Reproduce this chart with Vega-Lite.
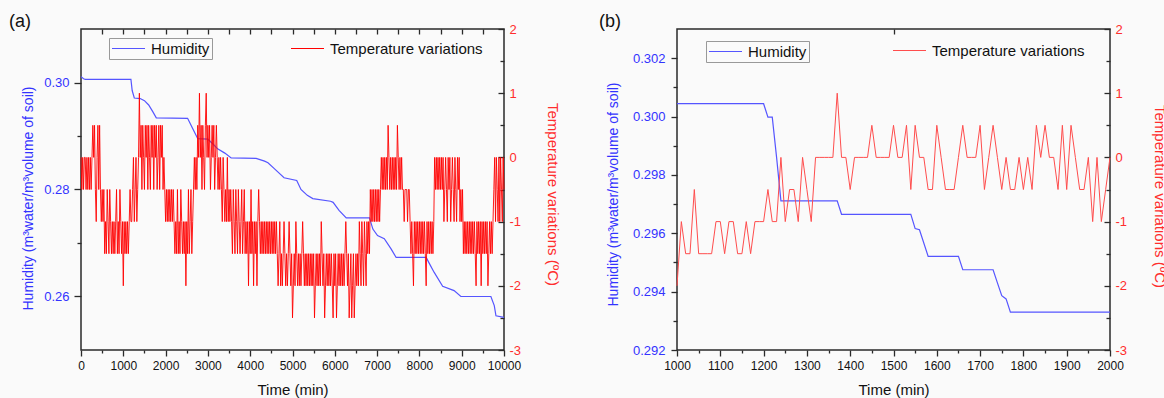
{
  "$schema": "https://vega.github.io/schema/vega-lite/v6.json",
  "background": "#fafafa",
  "padding": {"left": 8, "top": 12, "right": 0, "bottom": 0},
  "config": {
    "font": "Liberation Sans",
    "locale": {"number": {"decimal": ".", "thousands": ",", "grouping": [3], "currency": ["$", ""], "minus": "-"}},
    "view": {"stroke": "#2a2a2a", "strokeWidth": 1.5},
    "axis": {"domain": false, "grid": false, "tickColor": "#2a2a2a", "tickWidth": 1.3, "labelFont": "Liberation Sans", "titleFont": "Liberation Sans", "titleFontWeight": "normal"},
    "legend": {"orient": "none", "title": null, "symbolType": "stroke", "symbolSize": 1089, "symbolStrokeWidth": 1.2, "labelFontSize": 15, "labelFont": "Liberation Sans", "labelColor": "#111", "padding": 2, "labelOffset": 5, "clipHeight": 17, "direction": "horizontal"}
  },
  "datasets": {
    "humA": [
      {"t":0,"h":0.3011},{"t":60,"h":0.3007},{"t":100,"h":0.3006},{"t":1180,"h":0.3006},{"t":1210,"h":0.2985},{"t":1260,"h":0.2971},{"t":1400,"h":0.2970},{"t":1500,"h":0.2966},{"t":1600,"h":0.2958},{"t":1700,"h":0.2945},{"t":1780,"h":0.2934},{"t":2520,"h":0.2933},{"t":2640,"h":0.2914},{"t":2760,"h":0.2895},{"t":3000,"h":0.2894},{"t":3120,"h":0.2885},{"t":3230,"h":0.2876},{"t":3400,"h":0.2868},{"t":3550,"h":0.2859},{"t":4140,"h":0.2858},{"t":4340,"h":0.2853},{"t":4420,"h":0.2850},{"t":4570,"h":0.2839},{"t":4800,"h":0.2822},{"t":5100,"h":0.2817},{"t":5200,"h":0.2800},{"t":5350,"h":0.2789},{"t":5480,"h":0.2783},{"t":5900,"h":0.2778},{"t":5960,"h":0.2776},{"t":6100,"h":0.2761},{"t":6270,"h":0.2747},{"t":6820,"h":0.2747},{"t":6900,"h":0.2726},{"t":7010,"h":0.2714},{"t":7170,"h":0.2708},{"t":7330,"h":0.2689},{"t":7450,"h":0.2673},{"t":8160,"h":0.2673},{"t":8240,"h":0.2661},{"t":8350,"h":0.2645},{"t":8550,"h":0.2619},{"t":8820,"h":0.2611},{"t":8980,"h":0.2600},{"t":9690,"h":0.2600},{"t":9770,"h":0.2583},{"t":9810,"h":0.2564},{"t":10000,"h":0.2561}
    ],
    "tempA": [
      {"t":0,"v":0},{"t":20,"v":-0.5},{"t":40,"v":0},{"t":60,"v":-0.5},{"t":80,"v":0},{"t":100,"v":0},{"t":120,"v":-0.5},{"t":140,"v":0},{"t":160,"v":-0.5},{"t":180,"v":0},{"t":200,"v":-0.5},{"t":220,"v":0},{"t":240,"v":-0.5},{"t":260,"v":0},{"t":280,"v":0.5},{"t":300,"v":0},{"t":320,"v":0.5},{"t":340,"v":-0.5},{"t":360,"v":-1},{"t":380,"v":0},
      {"t":400,"v":0.5},{"t":420,"v":-0.5},{"t":440,"v":0.5},{"t":460,"v":-0.5},{"t":480,"v":-1},{"t":500,"v":-0.5},{"t":520,"v":-1},{"t":540,"v":-0.5},{"t":560,"v":-1.5},{"t":580,"v":-1},{"t":600,"v":-1.5},{"t":620,"v":-0.5},{"t":640,"v":-1},{"t":660,"v":-1.5},{"t":680,"v":-0.5},{"t":700,"v":-1},{"t":720,"v":-1.5},{"t":740,"v":-1},{"t":760,"v":-1.5},{"t":780,"v":-1},{"t":800,"v":-1.5},{"t":820,"v":-1},{"t":840,"v":-0.5},{"t":860,"v":-1.5},{"t":880,"v":-1},{"t":900,"v":-1.5},{"t":920,"v":-0.5},{"t":940,"v":-1},{"t":960,"v":-1.5},{"t":980,"v":-1},{"t":1000,"v":-2},{"t":1020,"v":-1},{"t":1040,"v":-1.5},{"t":1060,"v":-1},{"t":1080,"v":-1.5},{"t":1100,"v":-1},{"t":1120,"v":-1.5},{"t":1140,"v":-1},{"t":1160,"v":-0.5},{"t":1180,"v":-1},
      {"t":1200,"v":-1},{"t":1220,"v":-0.5},{"t":1240,"v":0},{"t":1260,"v":-1},{"t":1280,"v":-0.5},{"t":1300,"v":0},{"t":1320,"v":-1},{"t":1340,"v":-0.5},{"t":1360,"v":0},{"t":1380,"v":1},{"t":1400,"v":0},{"t":1420,"v":0.5},{"t":1440,"v":-0.5},{"t":1460,"v":0.5},{"t":1480,"v":0},{"t":1500,"v":-0.5},{"t":1520,"v":0.5},{"t":1540,"v":0},{"t":1560,"v":0.5},{"t":1580,"v":-0.5},{"t":1600,"v":0.5},{"t":1620,"v":0},{"t":1640,"v":-0.5},{"t":1660,"v":0.5},{"t":1680,"v":0},{"t":1700,"v":0.5},{"t":1720,"v":-0.5},{"t":1740,"v":0.5},{"t":1760,"v":0},{"t":1780,"v":0.5},{"t":1800,"v":-0.5},{"t":1820,"v":0},{"t":1840,"v":0.5},{"t":1860,"v":-0.5},{"t":1880,"v":0.5},{"t":1900,"v":0},{"t":1920,"v":0.5},{"t":1940,"v":-0.5},{"t":1960,"v":0},{"t":1980,"v":-0.5},
      {"t":2000,"v":-1},{"t":2020,"v":-0.5},{"t":2040,"v":-1},{"t":2060,"v":-0.5},{"t":2080,"v":-1},{"t":2100,"v":-0.5},{"t":2120,"v":-1},{"t":2140,"v":-0.5},{"t":2160,"v":-1},{"t":2180,"v":-0.5},{"t":2200,"v":-1},{"t":2220,"v":-1.5},{"t":2240,"v":-1},{"t":2260,"v":-1.5},{"t":2280,"v":-0.5},{"t":2300,"v":-1.5},{"t":2320,"v":-1},{"t":2340,"v":-1.5},{"t":2360,"v":-0.5},{"t":2380,"v":-1},{"t":2400,"v":-1.5},{"t":2420,"v":-1},{"t":2440,"v":-1.5},{"t":2460,"v":-1},{"t":2480,"v":-2},{"t":2500,"v":-1},{"t":2520,"v":-1.5},{"t":2540,"v":-0.5},{"t":2560,"v":-1.5},{"t":2580,"v":-1},{"t":2600,"v":-0.5},{"t":2620,"v":-1.5},{"t":2640,"v":-1},{"t":2660,"v":-0.5},
      {"t":2680,"v":0},{"t":2700,"v":-0.5},{"t":2720,"v":0},{"t":2740,"v":-0.5},{"t":2760,"v":0.5},{"t":2780,"v":0},{"t":2800,"v":1},{"t":2820,"v":0},{"t":2840,"v":0.5},{"t":2860,"v":-0.5},{"t":2880,"v":0.5},{"t":2900,"v":0},{"t":2920,"v":-0.5},{"t":2940,"v":0.5},{"t":2960,"v":1},{"t":2980,"v":0},{"t":3000,"v":0.5},{"t":3020,"v":0},{"t":3040,"v":0.5},{"t":3060,"v":-0.5},{"t":3080,"v":0},{"t":3100,"v":0.5},{"t":3120,"v":0},{"t":3140,"v":0.5},{"t":3160,"v":-0.5},{"t":3180,"v":0},{"t":3200,"v":0.5},{"t":3220,"v":0},{"t":3240,"v":-0.5},{"t":3260,"v":0},{"t":3280,"v":-0.5},{"t":3300,"v":0},
      {"t":3320,"v":-0.5},{"t":3340,"v":-1},{"t":3360,"v":0},{"t":3380,"v":-0.5},{"t":3400,"v":-1},{"t":3420,"v":-0.5},{"t":3440,"v":-1},{"t":3460,"v":0},{"t":3480,"v":-1},{"t":3500,"v":-0.5},{"t":3520,"v":-1},{"t":3540,"v":-0.5},{"t":3560,"v":-1},{"t":3580,"v":-1.5},{"t":3600,"v":-0.5},{"t":3620,"v":-1},{"t":3640,"v":-1.5},{"t":3660,"v":-0.5},{"t":3680,"v":-1},{"t":3700,"v":-1.5},{"t":3720,"v":-0.5},{"t":3740,"v":-1},{"t":3760,"v":-1.5},{"t":3780,"v":-1},{"t":3800,"v":-0.5},{"t":3820,"v":-1.5},{"t":3840,"v":-1},{"t":3860,"v":-0.5},{"t":3880,"v":-1.5},{"t":3900,"v":-1},{"t":3920,"v":-1.5},{"t":3940,"v":-1},{"t":3960,"v":-2},{"t":3980,"v":-1},{"t":4000,"v":-1.5},{"t":4020,"v":-0.5},{"t":4040,"v":-1.5},{"t":4060,"v":-1},{"t":4080,"v":-2},{"t":4100,"v":-1},{"t":4120,"v":-1.5},{"t":4140,"v":-1},{"t":4160,"v":-2},{"t":4180,"v":-1},{"t":4200,"v":-0.5},{"t":4220,"v":-1},
      {"t":4240,"v":-1.5},{"t":4260,"v":-1},{"t":4280,"v":-1.5},{"t":4300,"v":-1},{"t":4320,"v":-1.5},{"t":4340,"v":-1},{"t":4360,"v":-1.5},{"t":4380,"v":-1},{"t":4400,"v":-1.5},{"t":4420,"v":-1},{"t":4440,"v":-1.5},{"t":4460,"v":-1},{"t":4480,"v":-1.5},{"t":4500,"v":-1},{"t":4520,"v":-1.5},{"t":4540,"v":-1},{"t":4560,"v":-1.5},{"t":4580,"v":-1},{"t":4600,"v":-1.5},{"t":4620,"v":-1},{"t":4640,"v":-1.5},{"t":4660,"v":-2},{"t":4680,"v":-1.5},{"t":4700,"v":-1},{"t":4720,"v":-2},{"t":4740,"v":-1.5},
      {"t":4760,"v":-2},{"t":4780,"v":-1.5},{"t":4800,"v":-1},{"t":4820,"v":-1.5},{"t":4840,"v":-2},{"t":4860,"v":-1.5},{"t":4880,"v":-2},{"t":4900,"v":-1.5},{"t":4920,"v":-1},{"t":4940,"v":-1.5},{"t":4960,"v":-2},{"t":4980,"v":-1.5},{"t":5000,"v":-2.5},{"t":5020,"v":-2},{"t":5040,"v":-1.5},{"t":5060,"v":-2},{"t":5080,"v":-1},{"t":5100,"v":-1.5},{"t":5120,"v":-2},{"t":5140,"v":-1.5},{"t":5160,"v":-2},{"t":5180,"v":-1.5},{"t":5200,"v":-2},{"t":5220,"v":-1.5},{"t":5240,"v":-1},{"t":5260,"v":-1.5},{"t":5280,"v":-2},{"t":5300,"v":-1.5},{"t":5320,"v":-2},{"t":5340,"v":-1.5},{"t":5360,"v":-2},{"t":5380,"v":-1.5},{"t":5400,"v":-2},{"t":5420,"v":-1.5},{"t":5440,"v":-2},{"t":5460,"v":-1.5},{"t":5480,"v":-2},{"t":5500,"v":-1.5},{"t":5520,"v":-2.5},{"t":5540,"v":-2},{"t":5560,"v":-1.5},{"t":5580,"v":-2},{"t":5600,"v":-1.5},{"t":5620,"v":-2},{"t":5640,"v":-1.5},{"t":5660,"v":-2},{"t":5680,"v":-1},{"t":5700,"v":-1.5},{"t":5720,"v":-2},{"t":5740,"v":-1.5},{"t":5760,"v":-2.5},{"t":5780,"v":-2},{"t":5800,"v":-1.5},{"t":5820,"v":-2},{"t":5840,"v":-1.5},{"t":5860,"v":-2},{"t":5880,"v":-1.5},{"t":5900,"v":-2},{"t":5920,"v":-1.5},{"t":5940,"v":-2},{"t":5960,"v":-2.5},{"t":5980,"v":-1.5},{"t":6000,"v":-2},{"t":6020,"v":-1.5},{"t":6040,"v":-2.5},{"t":6060,"v":-2},{"t":6080,"v":-1.5},{"t":6100,"v":-2},{"t":6120,"v":-1.5},{"t":6140,"v":-2},{"t":6160,"v":-1.5},{"t":6180,"v":-2},{"t":6200,"v":-1.5},{"t":6220,"v":-2},{"t":6240,"v":-1.5},{"t":6260,"v":-1},{"t":6280,"v":-1.5},{"t":6300,"v":-2},{"t":6320,"v":-1.5},{"t":6340,"v":-2.5},{"t":6360,"v":-2},{"t":6380,"v":-1.5},{"t":6400,"v":-2.5},{"t":6420,"v":-2},{"t":6440,"v":-1.5},{"t":6460,"v":-2.5},{"t":6480,"v":-2},{"t":6500,"v":-1.5},{"t":6520,"v":-2},{"t":6540,"v":-1.5},{"t":6560,"v":-2},{"t":6580,"v":-1},{"t":6600,"v":-1.5},{"t":6620,"v":-2},{"t":6640,"v":-1},{"t":6660,"v":-1.5},{"t":6680,"v":-2},{"t":6700,"v":-1},{"t":6720,"v":-1.5},{"t":6740,"v":-2},{"t":6760,"v":-1},{"t":6780,"v":-1.5},{"t":6800,"v":-1},{"t":6820,"v":-1.5},
      {"t":6840,"v":-0.5},{"t":6860,"v":-1},{"t":6880,"v":-0.5},{"t":6900,"v":-1},{"t":6920,"v":-0.5},{"t":6940,"v":-1},{"t":6960,"v":-0.5},{"t":6980,"v":-1},{"t":7000,"v":-0.5},{"t":7020,"v":-1},{"t":7040,"v":-0.5},{"t":7060,"v":-1},{"t":7080,"v":-0.5},{"t":7100,"v":0},{"t":7120,"v":-0.5},{"t":7140,"v":0},{"t":7160,"v":-0.5},{"t":7180,"v":0},
      {"t":7200,"v":-0.5},{"t":7220,"v":0},{"t":7240,"v":-0.5},{"t":7260,"v":0.5},{"t":7280,"v":0},{"t":7300,"v":-0.5},{"t":7320,"v":0},{"t":7340,"v":-0.5},{"t":7360,"v":0},{"t":7380,"v":-0.5},{"t":7400,"v":0},{"t":7420,"v":-0.5},{"t":7440,"v":0},{"t":7460,"v":-0.5},{"t":7480,"v":0.5},{"t":7500,"v":0},{"t":7520,"v":-0.5},{"t":7540,"v":0},{"t":7560,"v":-0.5},{"t":7580,"v":0},
      {"t":7600,"v":-0.5},{"t":7620,"v":-0.5},{"t":7640,"v":-1},{"t":7660,"v":-0.5},{"t":7680,"v":-0.5},{"t":7700,"v":-0.5},{"t":7720,"v":-1},{"t":7740,"v":-0.5},{"t":7760,"v":-0.5},{"t":7780,"v":-1},
      {"t":7800,"v":-1.5},{"t":7820,"v":-1},{"t":7840,"v":-1.5},{"t":7860,"v":-2},{"t":7880,"v":-1},{"t":7900,"v":-1.5},{"t":7920,"v":-1},{"t":7940,"v":-1.5},{"t":7960,"v":-1},{"t":7980,"v":-1.5},{"t":8000,"v":-1},{"t":8020,"v":-1.5},{"t":8040,"v":-1},{"t":8060,"v":-1.5},{"t":8080,"v":-1},{"t":8100,"v":-1.5},{"t":8120,"v":-1},{"t":8140,"v":-1.5},{"t":8160,"v":-2},{"t":8180,"v":-1},{"t":8200,"v":-1.5},{"t":8220,"v":-1},{"t":8240,"v":-1.5},{"t":8260,"v":-1},{"t":8280,"v":-1.5},{"t":8300,"v":-1},{"t":8320,"v":-1.5},{"t":8340,"v":-1},
      {"t":8360,"v":0},{"t":8380,"v":-0.5},{"t":8400,"v":0},{"t":8420,"v":-0.5},{"t":8440,"v":0},{"t":8460,"v":-0.5},{"t":8480,"v":0},{"t":8500,"v":-0.5},{"t":8520,"v":0},{"t":8540,"v":-0.5},{"t":8560,"v":0},{"t":8580,"v":-1},{"t":8600,"v":-0.5},{"t":8620,"v":0},{"t":8640,"v":-0.5},{"t":8660,"v":-1},{"t":8680,"v":0},{"t":8700,"v":-0.5},{"t":8720,"v":0},{"t":8740,"v":-1},{"t":8760,"v":-0.5},{"t":8780,"v":0},{"t":8800,"v":-0.5},{"t":8820,"v":-1},{"t":8840,"v":0},{"t":8860,"v":-0.5},{"t":8880,"v":-1},{"t":8900,"v":0},{"t":8920,"v":-0.5},{"t":8940,"v":0},{"t":8960,"v":-1},{"t":8980,"v":-0.5},{"t":9000,"v":-1},{"t":9020,"v":-0.5},
      {"t":9040,"v":-1.5},{"t":9060,"v":-1},{"t":9080,"v":-1.5},{"t":9100,"v":-1},{"t":9120,"v":-1.5},{"t":9140,"v":-1},{"t":9160,"v":-1.5},{"t":9180,"v":-1},{"t":9200,"v":-1.5},{"t":9220,"v":-1},{"t":9240,"v":-1.5},{"t":9260,"v":-1},{"t":9280,"v":-1.5},{"t":9300,"v":-1},{"t":9320,"v":-1.5},{"t":9340,"v":-2},{"t":9360,"v":-1},{"t":9380,"v":-1.5},{"t":9400,"v":-1},{"t":9420,"v":-1.5},{"t":9440,"v":-1},{"t":9460,"v":-2},{"t":9480,"v":-1},{"t":9500,"v":-1.5},{"t":9520,"v":-1},{"t":9540,"v":-1.5},{"t":9560,"v":-1},{"t":9580,"v":-1.5},{"t":9600,"v":-1},{"t":9620,"v":-2},{"t":9640,"v":-1.5},{"t":9660,"v":-1},{"t":9680,"v":-1.5},{"t":9700,"v":-1},{"t":9720,"v":-1.5},{"t":9740,"v":-1},
      {"t":9760,"v":-0.5},{"t":9780,"v":0},{"t":9800,"v":-1},{"t":9820,"v":0},{"t":9840,"v":-0.5},{"t":9860,"v":-1},{"t":9880,"v":0},{"t":9900,"v":-1},{"t":9920,"v":0},{"t":9940,"v":-0.5},{"t":9960,"v":-1},{"t":9980,"v":0},{"t":10000,"v":-0.5}
    ],
    "humB": [
      {"t":1000,"h":0.30044},{"t":1200,"h":0.30044},{"t":1210,"h":0.29998},{"t":1220,"h":0.29998},{"t":1230,"h":0.2986},{"t":1240,"h":0.29711},{"t":1370,"h":0.29711},{"t":1380,"h":0.29665},{"t":1540,"h":0.29665},{"t":1550,"h":0.29616},{"t":1560,"h":0.29612},{"t":1580,"h":0.29521},{"t":1650,"h":0.29521},{"t":1660,"h":0.29475},{"t":1730,"h":0.29475},{"t":1740,"h":0.2943},{"t":1750,"h":0.29386},{"t":1760,"h":0.29375},{"t":1770,"h":0.2933},{"t":2000,"h":0.2933}
    ],
    "tempB": [
      {"t":1000,"v":-2},{"t":1010,"v":-1},{"t":1020,"v":-1.5},{"t":1030,"v":-1.5},{"t":1040,"v":-0.5},{"t":1050,"v":-1.5},{"t":1060,"v":-1.5},{"t":1070,"v":-1.5},{"t":1080,"v":-1.5},{"t":1090,"v":-1},
      {"t":1100,"v":-1},{"t":1110,"v":-1.5},{"t":1120,"v":-1},{"t":1130,"v":-1},{"t":1140,"v":-1.5},{"t":1150,"v":-1.5},{"t":1160,"v":-1},{"t":1170,"v":-1.5},{"t":1180,"v":-1},{"t":1190,"v":-1},
      {"t":1200,"v":-1},{"t":1210,"v":-0.5},{"t":1220,"v":-1},{"t":1230,"v":-1},{"t":1240,"v":0},{"t":1250,"v":-1},{"t":1260,"v":-0.5},{"t":1270,"v":-0.5},{"t":1280,"v":-1},{"t":1290,"v":0},
      {"t":1300,"v":-0.5},{"t":1310,"v":-1},{"t":1320,"v":0},{"t":1330,"v":0},{"t":1340,"v":0},{"t":1350,"v":0},{"t":1360,"v":0},{"t":1370,"v":1},{"t":1380,"v":0},{"t":1390,"v":0},
      {"t":1400,"v":-0.5},{"t":1410,"v":0},{"t":1420,"v":0},{"t":1430,"v":0},{"t":1440,"v":0},{"t":1450,"v":0.5},{"t":1460,"v":0},{"t":1470,"v":0},{"t":1480,"v":0},{"t":1490,"v":0},
      {"t":1500,"v":0.5},{"t":1510,"v":0},{"t":1520,"v":0},{"t":1530,"v":0.5},{"t":1540,"v":-0.5},{"t":1550,"v":0.5},{"t":1560,"v":0},{"t":1570,"v":0},{"t":1580,"v":-0.5},{"t":1590,"v":-0.5},
      {"t":1600,"v":0.5},{"t":1610,"v":0},{"t":1620,"v":-0.5},{"t":1630,"v":-0.5},{"t":1640,"v":-0.5},{"t":1650,"v":0},{"t":1660,"v":0.5},{"t":1670,"v":0},{"t":1680,"v":0},{"t":1690,"v":0},
      {"t":1700,"v":0.5},{"t":1710,"v":-0.5},{"t":1720,"v":0},{"t":1730,"v":0.5},{"t":1740,"v":0},{"t":1750,"v":-0.5},{"t":1760,"v":0},{"t":1770,"v":-0.5},{"t":1780,"v":-0.5},{"t":1790,"v":0},
      {"t":1800,"v":-0.5},{"t":1810,"v":0},{"t":1820,"v":-0.5},{"t":1830,"v":0.5},{"t":1840,"v":0},{"t":1850,"v":0.5},{"t":1860,"v":0},{"t":1870,"v":0},{"t":1880,"v":-0.5},{"t":1890,"v":0.5},
      {"t":1900,"v":-0.5},{"t":1910,"v":0.5},{"t":1920,"v":0},{"t":1930,"v":-0.5},{"t":1940,"v":-0.5},{"t":1950,"v":0},{"t":1960,"v":-1},{"t":1970,"v":0},{"t":1980,"v":-1},{"t":1990,"v":-0.5},
      {"t":2000,"v":0}
    ]
  },
  "spacing": 173,
  "bounds": "flush",
  "hconcat": [
    {
      "width": 423, "height": 321,
      "title": {"text": "(a)", "anchor": "start", "frame": "group", "dx": -72, "offset": -22, "fontSize": 18, "fontWeight": "normal", "color": "#111", "baseline": "alphabetic"},
      "layer": [
        {
          "data": {"name": "humA"},
          "layer": [
            {"mark": {"type": "line", "strokeWidth": 1.2},
             "encoding": {
               "x": {"field": "t", "type": "quantitative", "scale": {"domain": [0, 10000], "nice": false, "zero": false},
                     "axis": {"orient": "bottom", "values": [0,1000,2000,3000,4000,5000,6000,7000,8000,9000,10000], "format": "d", "labelFontSize": 12, "labelColor": "#111", "tickSize": 6, "labelPadding": 4, "labelFlush": false, "title": "Time (min)", "titleFontSize": 15, "titleColor": "#111", "titleY": 32, "titleBaseline": "top"}},
               "y": {"field": "h", "type": "quantitative", "scale": {"domain": [0.25, 0.31], "nice": false, "zero": false},
                     "axis": {"orient": "left", "values": [0.26, 0.28, 0.30], "format": ".2f", "labelFontSize": 13, "labelColor": "#3333ff", "tickSize": 7, "labelPadding": 5, "title": "Humidity (m³water/m³volume of soil)", "titleFontSize": 14, "titleColor": "#3333ff", "titleX": -49, "titleY": 169, "titleBaseline": "alphabetic"}},
               "color": {"datum": "Humidity", "type": "nominal", "scale": {"range": ["#5555ff"]}, "legend": {"legendX": 28, "legendY": 9, "strokeColor": "#999999"}}
             }},
            {"mark": {"type": "line", "opacity": 0},
             "encoding": {
               "x": {"field": "t", "type": "quantitative", "scale": {"domain": [0, 10000], "nice": false, "zero": false},
                     "axis": {"orient": "top", "values": [500,1000,1500,2000,2500,3000,3500,4000,4500,5000,5500,6000,6500,7000,7500,8000,8500,9000,9500], "labels": false, "title": null, "tickSize": -5}},
               "y": {"field": "h", "type": "quantitative", "scale": {"domain": [0.25, 0.31], "nice": false, "zero": false},
                     "axis": {"orient": "left", "values": [0.27, 0.29], "labels": false, "title": null, "tickSize": 4}}
             }},
            {"mark": {"type": "line", "opacity": 0},
             "encoding": {
               "x": {"field": "t", "type": "quantitative", "scale": {"domain": [0, 10000], "nice": false, "zero": false},
                     "axis": {"orient": "bottom", "values": [500,1500,2500,3500,4500,5500,6500,7500,8500,9500], "labels": false, "title": null, "tickSize": 3}},
               "y": {"field": "h", "type": "quantitative", "scale": {"domain": [0.25, 0.31], "nice": false, "zero": false}, "axis": null}
             }}
          ],
          "resolve": {"axis": {"x": "independent", "y": "independent"}}
        },
        {
          "data": {"name": "tempA"},
          "layer": [
            {"mark": {"type": "line", "strokeWidth": 0.9},
             "encoding": {
               "x": {"field": "t", "type": "quantitative", "scale": {"domain": [0, 10000], "nice": false, "zero": false}, "axis": null},
               "y": {"field": "v", "type": "quantitative", "scale": {"domain": [-3, 2], "nice": false, "zero": false},
                     "axis": {"orient": "right", "values": [-3,-2,-1,0,1,2], "format": "d", "labelFontSize": 13, "labelColor": "#ff2d2d", "tickSize": -6, "labelPadding": 11, "title": "Temperature variations (ºC)", "titleFontSize": 15, "titleColor": "#ff2d2d", "titleX": 43, "titleY": 165, "titleBaseline": "alphabetic"}},
               "color": {"datum": "Temperature variations", "type": "nominal", "scale": {"range": ["#ff0000"]}, "legend": {"legendX": 207, "legendY": 9}}
             }},
            {"mark": {"type": "line", "opacity": 0},
             "encoding": {
               "x": {"field": "t", "type": "quantitative", "scale": {"domain": [0, 10000], "nice": false, "zero": false}, "axis": null},
               "y": {"field": "v", "type": "quantitative", "scale": {"domain": [-3, 2], "nice": false, "zero": false},
                     "axis": {"orient": "right", "values": [-2.5,-1.5,-0.5,0.5,1.5], "labels": false, "title": null, "tickSize": -4}}
             }}
          ],
          "resolve": {"axis": {"x": "independent", "y": "independent"}}
        }
      ],
      "resolve": {"scale": {"y": "independent", "color": "independent"}, "axis": {"x": "independent", "y": "independent"}}
    },
    {
      "width": 433, "height": 321,
      "title": {"text": "(b)", "anchor": "start", "frame": "group", "dx": -78, "offset": -22, "fontSize": 18, "fontWeight": "normal", "color": "#111", "baseline": "alphabetic"},
      "layer": [
        {
          "data": {"name": "humB"},
          "layer": [
            {"mark": {"type": "line", "strokeWidth": 1.2},
             "encoding": {
               "x": {"field": "t", "type": "quantitative", "scale": {"domain": [1000, 2000], "nice": false, "zero": false},
                     "axis": {"orient": "bottom", "values": [1000,1100,1200,1300,1400,1500,1600,1700,1800,1900,2000], "format": "d", "labelFontSize": 12, "labelColor": "#111", "tickSize": 6, "labelPadding": 4, "labelFlush": false, "title": "Time (min)", "titleFontSize": 15, "titleColor": "#111", "titleY": 32, "titleBaseline": "top"}},
               "y": {"field": "h", "type": "quantitative", "scale": {"domain": [0.292, 0.303], "nice": false, "zero": false},
                     "axis": {"orient": "left", "values": [0.292, 0.294, 0.296, 0.298, 0.300, 0.302], "format": ".3f", "labelFontSize": 13, "labelColor": "#3333ff", "tickSize": 6, "labelPadding": 6, "title": "Humidity (m³water/m³volume of soil)", "titleFontSize": 14, "titleColor": "#3333ff", "titleX": -60, "titleY": 165, "titleBaseline": "alphabetic"}},
               "color": {"datum": "Humidity", "type": "nominal", "scale": {"range": ["#5555ff"]}, "legend": {"legendX": 29, "legendY": 12, "strokeColor": "#999999"}}
             }},
            {"mark": {"type": "line", "opacity": 0},
             "encoding": {
               "x": {"field": "t", "type": "quantitative", "scale": {"domain": [1000, 2000], "nice": false, "zero": false},
                     "axis": {"orient": "top", "values": [1500], "labels": false, "title": null, "tickSize": -5}},
               "y": {"field": "h", "type": "quantitative", "scale": {"domain": [0.292, 0.303], "nice": false, "zero": false},
                     "axis": {"orient": "left", "values": [0.293, 0.295, 0.297, 0.299, 0.301], "labels": false, "title": null, "tickSize": 4}}
             }},
            {"mark": {"type": "line", "opacity": 0},
             "encoding": {
               "x": {"field": "t", "type": "quantitative", "scale": {"domain": [1000, 2000], "nice": false, "zero": false},
                     "axis": {"orient": "bottom", "values": [1050,1150,1250,1350,1450,1550,1650,1750,1850,1950], "labels": false, "title": null, "tickSize": 3}},
               "y": {"field": "h", "type": "quantitative", "scale": {"domain": [0.292, 0.303], "nice": false, "zero": false}, "axis": null}
             }}
          ],
          "resolve": {"axis": {"x": "independent", "y": "independent"}}
        },
        {
          "data": {"name": "tempB"},
          "layer": [
            {"mark": {"type": "line", "strokeWidth": 1},
             "encoding": {
               "x": {"field": "t", "type": "quantitative", "scale": {"domain": [1000, 2000], "nice": false, "zero": false}, "axis": null},
               "y": {"field": "v", "type": "quantitative", "scale": {"domain": [-3, 2], "nice": false, "zero": false},
                     "axis": {"orient": "right", "values": [-3,-2,-1,0,1,2], "format": "d", "labelFontSize": 13, "labelColor": "#ff2d2d", "tickSize": -6, "labelPadding": 11, "title": "Temperature variations (ºC)", "titleFontSize": 15, "titleColor": "#ff2d2d", "titleX": 44, "titleY": 167, "titleBaseline": "alphabetic"}},
               "color": {"datum": "Temperature variations", "type": "nominal", "scale": {"range": ["#ff4d4d"]}, "legend": {"legendX": 213, "legendY": 11}}
             }},
            {"mark": {"type": "line", "opacity": 0},
             "encoding": {
               "x": {"field": "t", "type": "quantitative", "scale": {"domain": [1000, 2000], "nice": false, "zero": false}, "axis": null},
               "y": {"field": "v", "type": "quantitative", "scale": {"domain": [-3, 2], "nice": false, "zero": false},
                     "axis": {"orient": "right", "values": [-2.5,-1.5,-0.5,0.5,1.5], "labels": false, "title": null, "tickSize": -4}}
             }}
          ],
          "resolve": {"axis": {"x": "independent", "y": "independent"}}
        }
      ],
      "resolve": {"scale": {"y": "independent", "color": "independent"}, "axis": {"x": "independent", "y": "independent"}}
    }
  ]
}
